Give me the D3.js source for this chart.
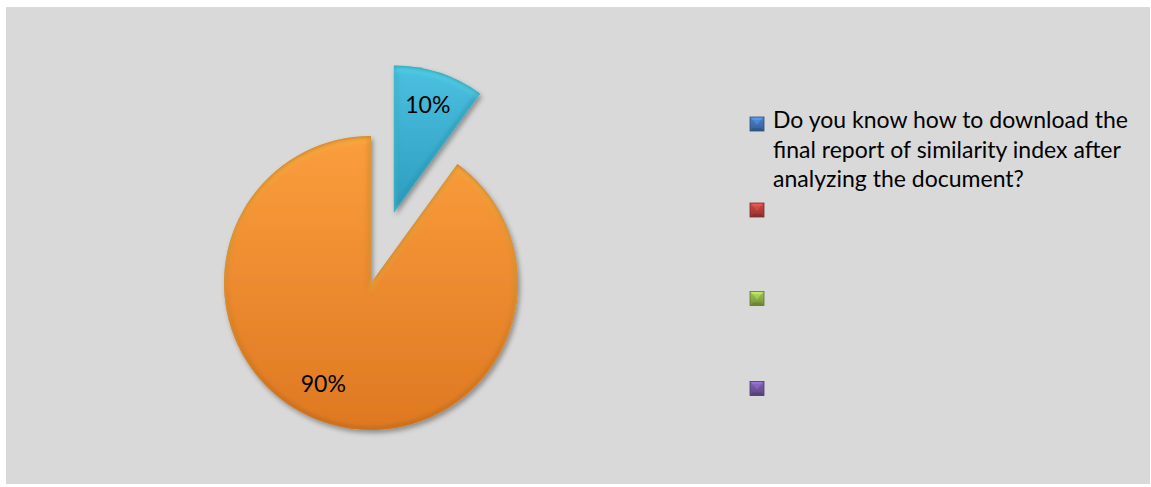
<!DOCTYPE html>
<html>
<head>
<meta charset="utf-8">
<script src="https://cdn.jsdelivr.net/npm/d3@7"></script>
<style>
  html, body { margin: 0; padding: 0; background: #ffffff; }
  svg { display: block; }
  text { font-family: Lato, "Open Sans", "Liberation Sans", sans-serif; fill: #000; }
</style>
</head>
<body>
<svg id="chart" width="1151" height="487"></svg>
<script>
// Survey answer shares shown as an exploded pie
const sliceNames = ["Yes", "No"];
const sliceValues = [10, 90];
const sliceLabels = ["10%", "90%"];
const sliceColors = [["#4cc0e0", "#2c9dc0"], ["#fb9e3d", "#de7822"]];

// Legend entries (first entry wraps over three lines, the others are blank)
const legendLines = [
  ["Do you know how to download the", "final report of similarity index after", "analyzing the document?"],
  [], [], []
];
const legendColors = ["#4275b5", "#b8403c", "#8fb24a", "#7458a0"];

const W = 1151, H = 487;
const svg = d3.select("#chart");
const defs = svg.append("defs");

// Chart area background
svg.append("rect").attr("x", 6).attr("y", 7).attr("width", 1144).attr("height", 477)
  .attr("fill", "#d9d9d9");

// Soft shadow under the slices
const shadow = defs.append("filter").attr("id", "shadow")
  .attr("x", "-20%").attr("y", "-20%").attr("width", "140%").attr("height", "140%");
shadow.append("feDropShadow").attr("dx", 2).attr("dy", 3).attr("stdDeviation", 2.5)
  .attr("flood-color", "#000").attr("flood-opacity", 0.35);

// Blur used for the bevelled inner edge
const edgeBlur = defs.append("filter").attr("id", "edgeBlur");
edgeBlur.append("feGaussianBlur").attr("stdDeviation", 2.2);

sliceColors.forEach((c, i) => {
  const g = defs.append("linearGradient").attr("id", "slice" + i)
    .attr("x1", 0).attr("y1", 0).attr("x2", 0).attr("y2", 1);
  g.append("stop").attr("offset", "0%").attr("stop-color", c[0]);
  g.append("stop").attr("offset", "100%").attr("stop-color", c[1]);
});

const cx = 371, cy = 283, radius = 147, explode = 74;
const pie = d3.pie().sort(null).value(d => d)(sliceValues);
const arc = d3.arc().innerRadius(0).outerRadius(radius);
const explodeBy = [explode, 0];

const pieG = svg.append("g").attr("transform", `translate(${cx},${cy})`);

pie.forEach((p, i) => {
  const mid = (p.startAngle + p.endAngle) / 2;
  const ox = Math.sin(mid) * explodeBy[i], oy = -Math.cos(mid) * explodeBy[i];
  const g = pieG.append("g").attr("transform", `translate(${ox},${oy})`);
  const dPath = arc(p);

  const clipId = "clip" + i;
  defs.append("clipPath").attr("id", clipId).append("path").attr("d", dPath)
    .attr("transform", `translate(${cx + ox},${cy + oy})`);

  g.append("path").attr("d", dPath).attr("fill", "url(#slice" + i + ")")
    .attr("filter", "url(#shadow)");

  // bevel: darker rim and lighter upper rim, clipped inside the slice
  const inner = svg.append("g").attr("clip-path", `url(#${clipId})`)
    .append("g").attr("transform", `translate(${cx + ox},${cy + oy})`);
  inner.append("path").attr("d", dPath).attr("fill", "none")
    .attr("stroke", d3.color(sliceColors[i][1]).darker(0.9)).attr("stroke-width", 5)
    .attr("stroke-opacity", 0.6).attr("filter", "url(#edgeBlur)");
  inner.append("path").attr("d", dPath).attr("fill", "none")
    .attr("transform", "translate(0,3)")
    .attr("stroke", d3.color(sliceColors[i][0]).brighter(0.8)).attr("stroke-width", 4)
    .attr("stroke-opacity", 0.45).attr("filter", "url(#edgeBlur)");
});

// Measure the font so the legend's first line has the right width
const probe = svg.append("text").attr("font-size", 24).text(legendLines[0][0]);
const fontSize = 24 * 355 / probe.node().getComputedTextLength();
probe.remove();

// Slice value labels
const labelRadius = [113, 111];
const labelTurn = [0, 0.12];
pie.forEach((p, i) => {
  const mid = (p.startAngle + p.endAngle) / 2;
  const a = mid + labelTurn[i];
  const ox = Math.sin(mid) * explodeBy[i], oy = -Math.cos(mid) * explodeBy[i];
  const lx = ox + Math.sin(a) * labelRadius[i];
  const ly = oy - Math.cos(a) * labelRadius[i];
  pieG.append("text").attr("x", lx - 1).attr("y", ly)
    .attr("text-anchor", "middle").attr("dy", "0.35em")
    .attr("font-size", fontSize).text(sliceLabels[i]);
});

// Legend
const legendY = d3.scaleOrdinal().domain(d3.range(legendColors.length)).range([124, 210, 298.5, 388.5]);
const legend = svg.append("g");
legendColors.forEach((col, i) => {
  const y = legendY(i);
  const gid = "mk" + i;
  const gr = defs.append("linearGradient").attr("id", gid)
    .attr("x1", 0).attr("y1", 0).attr("x2", 0).attr("y2", 1);
  gr.append("stop").attr("offset", "0%").attr("stop-color", d3.color(col).brighter(0.3));
  gr.append("stop").attr("offset", "100%").attr("stop-color", d3.color(col).darker(0.6));
  const s = 14, x0 = 750, y0 = y - s / 2;
  legend.append("rect").attr("x", x0).attr("y", y0).attr("width", s).attr("height", s)
    .attr("fill", "url(#" + gid + ")");
  // pyramid faces of the bevelled marker
  const b = 3;
  legend.append("path")
    .attr("d", `M${x0},${y0}L${x0 + s},${y0}L${x0 + s - b},${y0 + b}L${x0 + b},${y0 + b}Z`)
    .attr("fill", d3.color(col).brighter(0.9)).attr("opacity", 0.75);
  legend.append("path")
    .attr("d", `M${x0 + b},${y0 + b}L${x0 + s - b},${y0 + b}L${x0 + s / 2},${y0 + s / 2 + 1}Z`)
    .attr("fill", d3.color(col).brighter(0.6)).attr("opacity", 0.65);
  legend.append("path")
    .attr("d", `M${x0},${y0 + s}L${x0 + s},${y0 + s}L${x0 + s - b},${y0 + s - b}L${x0 + b},${y0 + s - b}Z`)
    .attr("fill", d3.color(col).darker(0.9)).attr("opacity", 0.75);
  legend.append("rect").attr("x", x0).attr("y", y0).attr("width", s).attr("height", s)
    .attr("fill", "none").attr("stroke", d3.color(col).darker(1.1)).attr("stroke-width", 0.8);

  legendLines[i].forEach((line, j) => {
    legend.append("text").attr("x", 773).attr("y", 128 + j * 29.5)
      .attr("font-size", fontSize).text(line);
  });
});
</script>
</body>
</html>
